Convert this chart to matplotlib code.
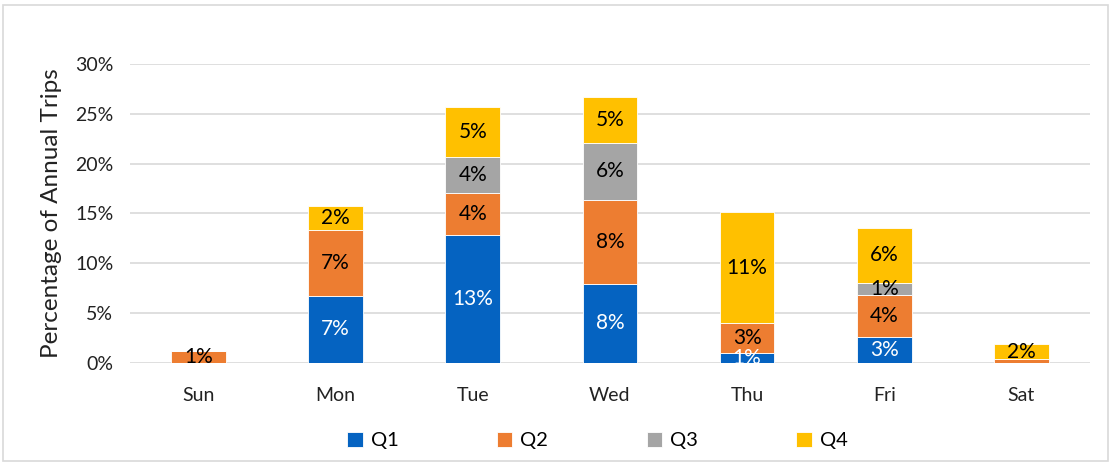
import matplotlib.pyplot as plt
import numpy as np
from matplotlib.patches import Rectangle

days = ['Sun', 'Mon', 'Tue', 'Wed', 'Thu', 'Fri', 'Sat']
q1 = [0.0, 6.74, 12.85, 7.95, 1.00, 2.62, 0.0]
q2 = [1.17, 6.62, 4.23, 8.36, 3.03, 4.23, 0.37]
q3 = [0.0, 0.0, 3.56, 5.80, 0.0, 1.20, 0.0]
q4 = [0.0, 2.35, 5.00, 4.53, 11.07, 5.54, 1.51]
series_names = ['Q1', 'Q2', 'Q3', 'Q4']

colors = ['#0563C1', '#ED7D31', '#A5A5A5', '#FFC000']
text_colors = ['white', 'black', 'black', 'black']

plt.rcParams['font.family'] = ['Lato', 'DejaVu Sans']

fig = plt.figure(figsize=(11.11, 4.63), dpi=100)
ax = fig.add_axes([0.117, 0.216, 0.864, 0.646])

# light border around the whole chart
fig.patches.append(Rectangle((0.003, 0.005), 0.994, 0.984, transform=fig.transFigure,
                             fill=False, edgecolor='#D9D9D9', linewidth=1.2))

x = np.arange(len(days))
bottom = np.zeros(len(days))
for vals, name, col, tcol in zip([q1, q2, q3, q4], series_names, colors, text_colors):
    vals = np.array(vals) / 100
    ax.bar(x, vals, 0.4, bottom=bottom, color=col, label=name,
           edgecolor='white', linewidth=0.6, zorder=3)
    for xi, b, v in zip(x, bottom, vals):
        if v >= 0.005:
            ax.text(xi, b + v / 2, '%d%%' % round(v * 100), ha='center', va='center',
                    color=tcol, fontsize=15, zorder=4)
    bottom += vals

ax.set_xlim(-0.5, len(days) - 0.5)
ax.set_ylim(0, 0.30)
ax.set_yticks(np.arange(0, 0.31, 0.05))
ax.set_yticklabels(['%d%%' % round(t * 100) for t in np.arange(0, 0.31, 0.05)])
ax.set_xticks(x)
ax.set_xticklabels(days)
ax.tick_params(axis='both', length=0, labelsize=14, colors='#222222')
ax.tick_params(axis='y', pad=12)
ax.tick_params(axis='x', pad=17)
ax.grid(axis='y', color='#D9D9D9', linewidth=1.2, zorder=0)
for s in ax.spines.values():
    s.set_visible(False)
ax.set_ylabel('Percentage of Annual Trips', fontsize=17.5, color='#222222', labelpad=9)

ax.legend(loc='upper center', bbox_to_anchor=(0.487, -0.17), ncol=4, frameon=False,
          fontsize=14.5, handlelength=0.75, handleheight=0.75, columnspacing=4.9,
          handletextpad=0.4)

fig.savefig('out.png', dpi=100)
